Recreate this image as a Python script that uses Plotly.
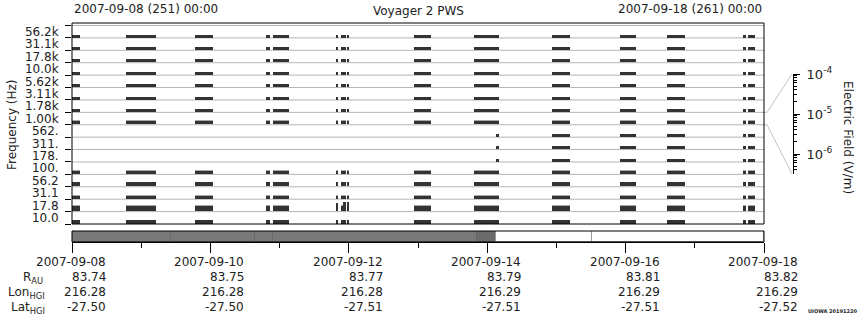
import plotly.graph_objects as go
import pandas as pd

# ---------------- data ----------------
T0 = pd.Timestamp("2007-09-08 00:00")
T1 = pd.Timestamp("2007-09-18 00:00")

channels = ["56.2k", "31.1k", "17.8k", "10.0k", "5.62k", "3.11k", "1.78k", "1.00k",
            "562.", "311.", "178.", "100.", "56.2", "31.1", "17.8", "10.0"]

# data-coverage intervals, hours after 2007-09-08 00:00
interval_start = [0.0, 18.7, 42.7, 67.3, 69.7, 91.6, 93.3, 94.0, 95.55, 118.6,
                  139.4, 147.1, 166.5, 190.1, 206.4, 232.7, 234.5]
interval_end = [2.8, 29.1, 48.9, 68.6, 75.3, 92.2, 93.8, 95.2, 96.0, 124.5,
                147.1, 148.1, 172.6, 195.6, 212.6, 233.8, 236.9]
# first interval with data for each channel (562/311/178 Hz start late)
first_interval = [0, 0, 0, 0, 0, 0, 0, 0, 11, 11, 11, 0, 0, 0, 0, 0]

# typical electric field amplitude per channel (V/m)
level = [1.5e-6, 1.5e-6, 1.5e-6, 1.45e-6, 1.5e-6, 1.5e-6, 1.25e-6, 1.45e-6,
         1.2e-6, 1.2e-6, 1.3e-6, 1.6e-6, 1.9e-6, 1.6e-6, 4.5e-6, 2.6e-6]
# occasional peak amplitude (lighter) per channel
peak = [None, None, None, None, None, None, 1.6e-6, 1.75e-6,
        None, None, None, 2.2e-6, None, 2.0e-6, 7.0e-6, None]
# isolated bursts
spike_channel = [14, 14, 14]
spike_interval = [5, 7, 8]
spike_value = [1.6e-5, 2.0e-5, 2.6e-5]

# coverage bar segments (hours) and shades
seg_start = [0.0, 34.3, 63.5, 69.7, 140.5, 147.1, 180.4]
seg_end = [34.3, 63.5, 69.7, 140.5, 147.1, 180.4, 240.0]
seg_color = ["#787878", "#787878", "#787878", "#787878", "#6c6c6c", "#ffffff", "#ffffff"]
seg_edge = ["#6a6a6a", "#6a6a6a", "#6a6a6a", "#6a6a6a", "#636363", "#9a9a9a", "#9a9a9a"]

# ephemeris
eph_dates = ["2007-09-08", "2007-09-10", "2007-09-12", "2007-09-14", "2007-09-16", "2007-09-18"]
eph_r = ["83.74", "83.75", "83.77", "83.79", "83.81", "83.82"]
eph_lon = ["216.28", "216.28", "216.28", "216.29", "216.29", "216.29"]
eph_lat = ["-27.50", "-27.50", "-27.51", "-27.51", "-27.51", "-27.52"]

# ---------------- layout helpers ----------------
W, H = 860, 320
PX_L, PX_R, PX_T, PX_B = 72, 793, 23, 242
PW, PH = PX_R - PX_L, PX_B - PX_T


def fx(px):
    return (px - PX_L) / PW


def fy(py):
    return (PX_B - py) / PH


BAND_TOP, BAND_BOT = 25.5, 224.0
NB = len(channels)
BH = (BAND_BOT - BAND_TOP) / NB
XD = fx(764)
LOGMIN, LOGMAX = -6.5, -4.0
FLOOR = 10 ** LOGMIN
FONT = "DejaVu Sans"
TXT = "#222222"


def tstr(h):
    return (T0 + pd.to_timedelta(h, unit="h")).strftime("%Y-%m-%d %H:%M:%S.%f")


fig = go.Figure()
layout_axes = {}

for i, ch in enumerate(channels):
    n = i + 1
    yname = "y" if n == 1 else f"y{n}"
    lname = "yaxis" if n == 1 else f"yaxis{n}"
    idx = list(range(first_interval[i], len(interval_start)))
    mids = [tstr((interval_start[k] + interval_end[k]) / 2) for k in idx]
    widths = [(interval_end[k] - interval_start[k]) * 3600e3 for k in idx]
    vals = []
    for k in idx:
        v = level[i]
        for c, it, sv in zip(spike_channel, spike_interval, spike_value):
            if c == i and it == k:
                v = sv
        vals.append(v)
    if peak[i] is not None:
        fig.add_trace(go.Bar(x=mids, y=[max(peak[i], v) for v in vals], width=widths, base=FLOOR,
                             marker=dict(color="#a8a8a8", line=dict(width=0)),
                             xaxis="x", yaxis=yname, hoverinfo="skip", showlegend=False))
    fig.add_trace(go.Bar(x=mids, y=vals, width=widths, base=FLOOR,
                         marker=dict(color="#333333", line=dict(width=0)),
                         xaxis="x", yaxis=yname, hoverinfo="skip", showlegend=False))
    top = BAND_TOP + i * BH
    layout_axes[lname] = dict(domain=[fy(top + BH), fy(top)], type="log",
                              range=[LOGMIN, LOGMAX], visible=False, anchor="x",
                              fixedrange=True)

# coverage bar
fig.add_trace(go.Bar(
    x=[tstr((a + b) / 2) for a, b in zip(seg_start, seg_end)],
    y=[1] * len(seg_start), base=0,
    width=[(b - a) * 3600e3 for a, b in zip(seg_start, seg_end)],
    marker=dict(color=seg_color, line=dict(color=seg_edge, width=1)),
    xaxis="x", yaxis="y18", hoverinfo="skip", showlegend=False))
layout_axes["yaxis18"] = dict(domain=[0, fy(231)], range=[0, 1], visible=False, anchor="x",
                              fixedrange=True)

# frequency label axis (overlay)
fig.add_trace(go.Scatter(x=[tstr(1)], y=[8], xaxis="x", yaxis="y19", mode="markers",
                         marker=dict(opacity=0), hoverinfo="skip", showlegend=False))
layout_axes["yaxis19"] = dict(
    domain=[fy(BAND_BOT), fy(BAND_TOP)], range=[0, NB], anchor="x",
    tickmode="array", tickvals=[NB - i - 0.5 for i in range(NB)], ticktext=channels,
    ticks="outside", ticklen=10, tickcolor="rgba(0,0,0,0)",
    minor=dict(tick0=0, dtick=1, ticks="outside", ticklen=6, tickcolor="black", showgrid=False),
    showline=False, showgrid=False, zeroline=False,
    tickfont=dict(family=FONT, size=12, color=TXT), fixedrange=True)

# electric field scale (magnifier)
fig.add_trace(go.Scatter(x=[0.5], y=[1e-5], xaxis="x2", yaxis="y17", mode="markers",
                         marker=dict(opacity=0), hoverinfo="skip", showlegend=False))
layout_axes["xaxis2"] = dict(domain=[fx(775), 1], range=[0, 1], visible=False, anchor="y17",
                             fixedrange=True)
layout_axes["yaxis17"] = dict(
    domain=[fy(174), fy(74)], type="log", range=[LOGMIN, LOGMAX], anchor="x2", side="right",
    showline=True, linecolor="black", linewidth=1, showgrid=False, zeroline=False,
    tickmode="array", tickvals=[1e-6, 1e-5, 1e-4],
    ticktext=["10<sup>-6</sup>", "10<sup>-5</sup>", "10<sup>-4</sup>"],
    ticks="outside", ticklen=6, tickcolor="black", ticklabelstandoff=4,
    minor=dict(dtick="D1", ticks="outside", ticklen=3, tickcolor="black", showgrid=False),
    tickfont=dict(family=FONT, size=13, color=TXT), fixedrange=True)

shapes = []
# band lines
for i in range(NB):
    yy = fy(BAND_TOP + i * BH)
    shapes.append(dict(type="line", xref="paper", yref="paper", x0=0, x1=XD, y0=yy, y1=yy,
                       line=dict(color="#b4b4b4", width=1), layer="below"))
# magnifier connectors for the 1.00k channel
mi = channels.index("1.00k")
for yb, ys in [(BAND_TOP + mi * BH, 74), (BAND_TOP + (mi + 1) * BH, 174)]:
    shapes.append(dict(type="path", xref="paper", yref="paper",
                       path=f"M {XD},{fy(yb)} L {fx(767)},{fy(yb)} L {fx(792)},{fy(ys)}",
                       line=dict(color="#c4c4c4", width=1)))
# frames
shapes.append(dict(type="rect", xref="x domain", yref="paper", x0=0, x1=1,
                   y0=fy(BAND_BOT), y1=1, line=dict(color="black", width=1)))
shapes.append(dict(type="rect", xref="x domain", yref="y18 domain", x0=0, x1=1, y0=0, y1=1,
                   line=dict(color="black", width=1)))

ann = []


def add_text(text, x, y, xref="paper", xanchor="center", size=12, angle=0, xshift=0, color=TXT):
    ann.append(dict(text=text, x=x, y=y, xref=xref, yref="paper", xanchor=xanchor,
                    yanchor="middle", showarrow=False, textangle=angle, xshift=xshift,
                    font=dict(family=FONT, size=size, color=color)))


add_text("2007-09-08 (251) 00:00", 0, fy(9), xanchor="left")
add_text("Voyager 2 PWS", fx(418), fy(11))
add_text("2007-09-18 (261) 00:00", XD, fy(9), xanchor="right")
add_text("Frequency (Hz)", fx(12), fy(125), angle=-90)
add_text("Electric Field (V/m)", fx(848), fy(137), angle=90)

for d, r, lo, la in zip(eph_dates, eph_r, eph_lon, eph_lat):
    for txt, py in [(d, 262), (r, 277), (lo, 292), (la, 307)]:
        add_text(txt, d, fy(py), xref="x", xanchor="right", xshift=36)

add_text("R<sub>AU</sub>", fx(45), fy(278), xanchor="right")
add_text("Lon<sub>HGI</sub>", fx(47), fy(293), xanchor="right")
add_text("Lat<sub>HGI</sub>", fx(47), fy(308), xanchor="right")
add_text("<b>UIOWA 20191220</b>", fx(859), fy(311), xanchor="right", size=5)

fig.update_layout(
    width=W, height=H,
    margin=dict(l=PX_L, r=W - PX_R, t=PX_T, b=H - PX_B),
    paper_bgcolor="white", plot_bgcolor="rgba(0,0,0,0)",
    barmode="overlay", bargap=0, showlegend=False,
    font=dict(family=FONT, size=12, color=TXT),
    xaxis=dict(type="date", range=[T0.strftime("%Y-%m-%d %H:%M"), T1.strftime("%Y-%m-%d %H:%M")],
               domain=[0, XD], anchor="y18", showline=True, linecolor="black",
               ticks="outside", ticklen=10, tickcolor="black",
               tick0=T0.strftime("%Y-%m-%d"), dtick=2 * 86400000,
               minor=dict(dtick=86400000, ticks="outside", ticklen=5, tickcolor="black",
                          showgrid=False),
               showticklabels=False, showgrid=False, zeroline=False, fixedrange=True),
    shapes=shapes, annotations=ann,
    **layout_axes,
)

fig.write_html("out.html")
